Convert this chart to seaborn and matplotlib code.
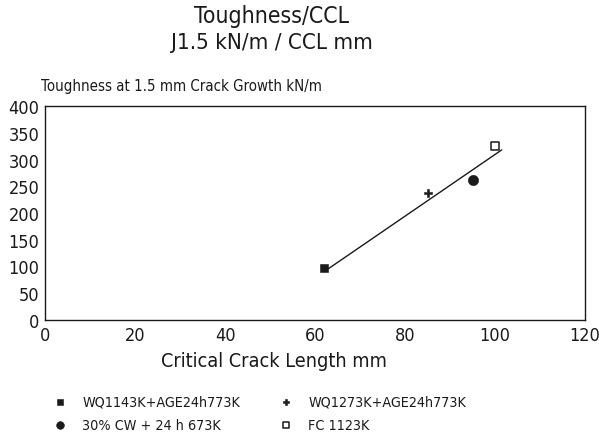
import matplotlib
matplotlib.use("Agg")
import matplotlib.pyplot as plt
from matplotlib import font_manager
import seaborn as sns
import pandas as pd

# Fracture toughness vs critical crack length for four heat treatments
treatments = ["WQ1143K+AGE24h773K", "WQ1273K+AGE24h773K", "30% CW + 24 h 673K", "FC 1123K"]
crack_length = [62, 85, 95, 100]          # mm
toughness = [98, 237, 261, 325]           # kN/m
markers = ["s", "P", "o", "s"]
filled = [True, True, True, False]
marker_sizes = [36, 40, 55, 32]

# Trend line end points
trend_x = [63, 101.5]
trend_y = [96, 318]

x_ticks = [0, 20, 40, 60, 80, 100, 120]
y_ticks = [0, 50, 100, 150, 200, 250, 300, 350, 400]

sns.set_theme(style="white")
available = {f.name for f in font_manager.fontManager.ttflist}
family = [f for f in ["Liberation Sans Narrow", "DejaVu Sans Condensed", "DejaVu Sans"] if f in available]
plt.rcParams["font.family"] = family
plt.rcParams["font.stretch"] = "condensed"

ink = "#1a1a1a"
fig = plt.figure(figsize=(5.99, 4.39), dpi=100)
ax = fig.add_axes([45 / 599, 1 - 321 / 439, 540 / 599, 214 / 439])

df = pd.DataFrame({"treatment": treatments, "length": crack_length, "toughness": toughness})

handles = {}
for i, row in df.iterrows():
    sns.scatterplot(
        x=[row["length"]], y=[row["toughness"]], ax=ax,
        marker=markers[i], s=marker_sizes[i],
        color=ink if filled[i] else "white",
        edgecolor=ink, linewidth=0.4 if filled[i] else 1.1,
        legend=False, zorder=3,
    )
    handles[row["treatment"]] = ax.collections[-1]

sns.lineplot(x=trend_x, y=trend_y, ax=ax, color=ink, linewidth=1.0, zorder=2)
if ax.get_legend() is not None:
    ax.get_legend().remove()

ax.set_xlim(0, 120)
ax.set_ylim(0, 400)
ax.set_xticks(x_ticks)
ax.set_yticks(y_ticks)
ax.tick_params(direction="in", length=5, width=0.9, color=ink, labelcolor=ink,
               labelsize=13, pad=4)
for side in ax.spines.values():
    side.set_color(ink)
    side.set_linewidth(1.0)
ax.set_xlabel("")
ax.set_ylabel("")
fig.text(274 / 599, 1 - 362 / 439, "Critical Crack Length mm", fontsize=14.2, color=ink,
         ha="center", va="center")
ax.text(-0.008, 1.06, "Toughness at 1.5 mm Crack Growth kN/m", transform=ax.transAxes,
        fontsize=10.8, color=ink, ha="left", va="bottom")

fig.text(272 / 599, 1 - 17 / 439, "Toughness/CCL", fontsize=16.5, color=ink,
         ha="center", va="center")
fig.text(272 / 599, 1 - 43 / 439, "J1.5 kN/m / CCL mm", fontsize=16, color=ink,
         ha="center", va="center")

order = ["WQ1143K+AGE24h773K", "30% CW + 24 h 673K", "WQ1273K+AGE24h773K", "FC 1123K"]
fig.legend([handles[k] for k in order], order, ncol=2, frameon=False,
           loc="upper left", bbox_to_anchor=(33 / 599, 1 - 383 / 439),
           fontsize=10.3, handletextpad=0.55, columnspacing=2.2,
           labelspacing=0.62, markerscale=0.75, labelcolor=ink)

fig.savefig("out.png", dpi=100, facecolor="white")
